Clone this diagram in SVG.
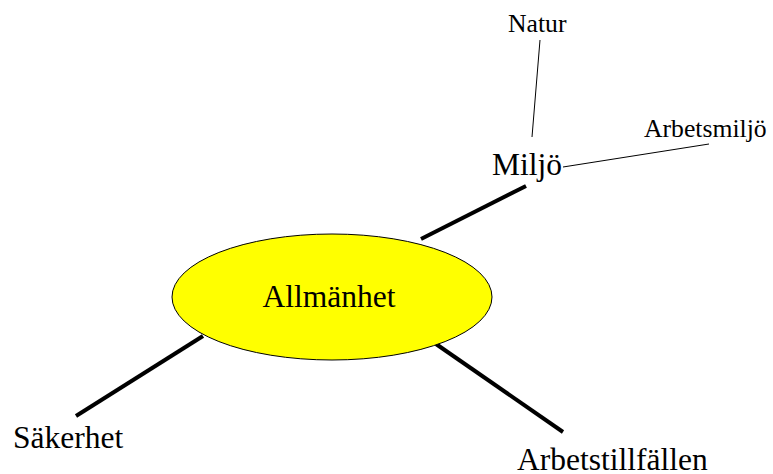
<svg xmlns="http://www.w3.org/2000/svg" width="773" height="474" viewBox="0 0 773 474">
  <style>
    text { font-family: "Liberation Serif", "Times New Roman", serif; fill: #000; }
    .big { font-size: 31.5px; }
    .small { font-size: 25.7px; }
    .thick { stroke: #000; stroke-width: 4; fill: none; }
    .thin { stroke: #000; stroke-width: 1; fill: none; }
  </style>
  <rect width="773" height="474" fill="#fff"/>
  <g id="connectors">
    <line class="thick" x1="421" y1="239" x2="526" y2="186"/>
    <line class="thick" x1="203" y1="336" x2="76" y2="416"/>
    <line class="thick" x1="436" y1="344" x2="563" y2="432"/>
    <line class="thin" x1="532" y1="137" x2="540" y2="40"/>
    <line class="thin" x1="563" y1="167" x2="709" y2="144"/>
  </g>
  <g id="allmanhet">
    <ellipse cx="332" cy="297" rx="160" ry="63" fill="#ffff00" stroke="#000" stroke-width="1"/>
    <text class="big" x="329" y="307" text-anchor="middle">Allmänhet</text>
  </g>
  <g id="miljo">
    <text class="big" x="492" y="175">Miljö</text>
  </g>
  <g id="natur">
    <text class="small" x="508" y="32">Natur</text>
  </g>
  <g id="arbetsmiljo">
    <text class="small" x="644" y="137">Arbetsmiljö</text>
  </g>
  <g id="sakerhet">
    <text class="big" x="13" y="448">Säkerhet</text>
  </g>
  <g id="arbetstillfallen">
    <text class="big" x="517" y="470">Arbetstillfällen</text>
  </g>
</svg>
